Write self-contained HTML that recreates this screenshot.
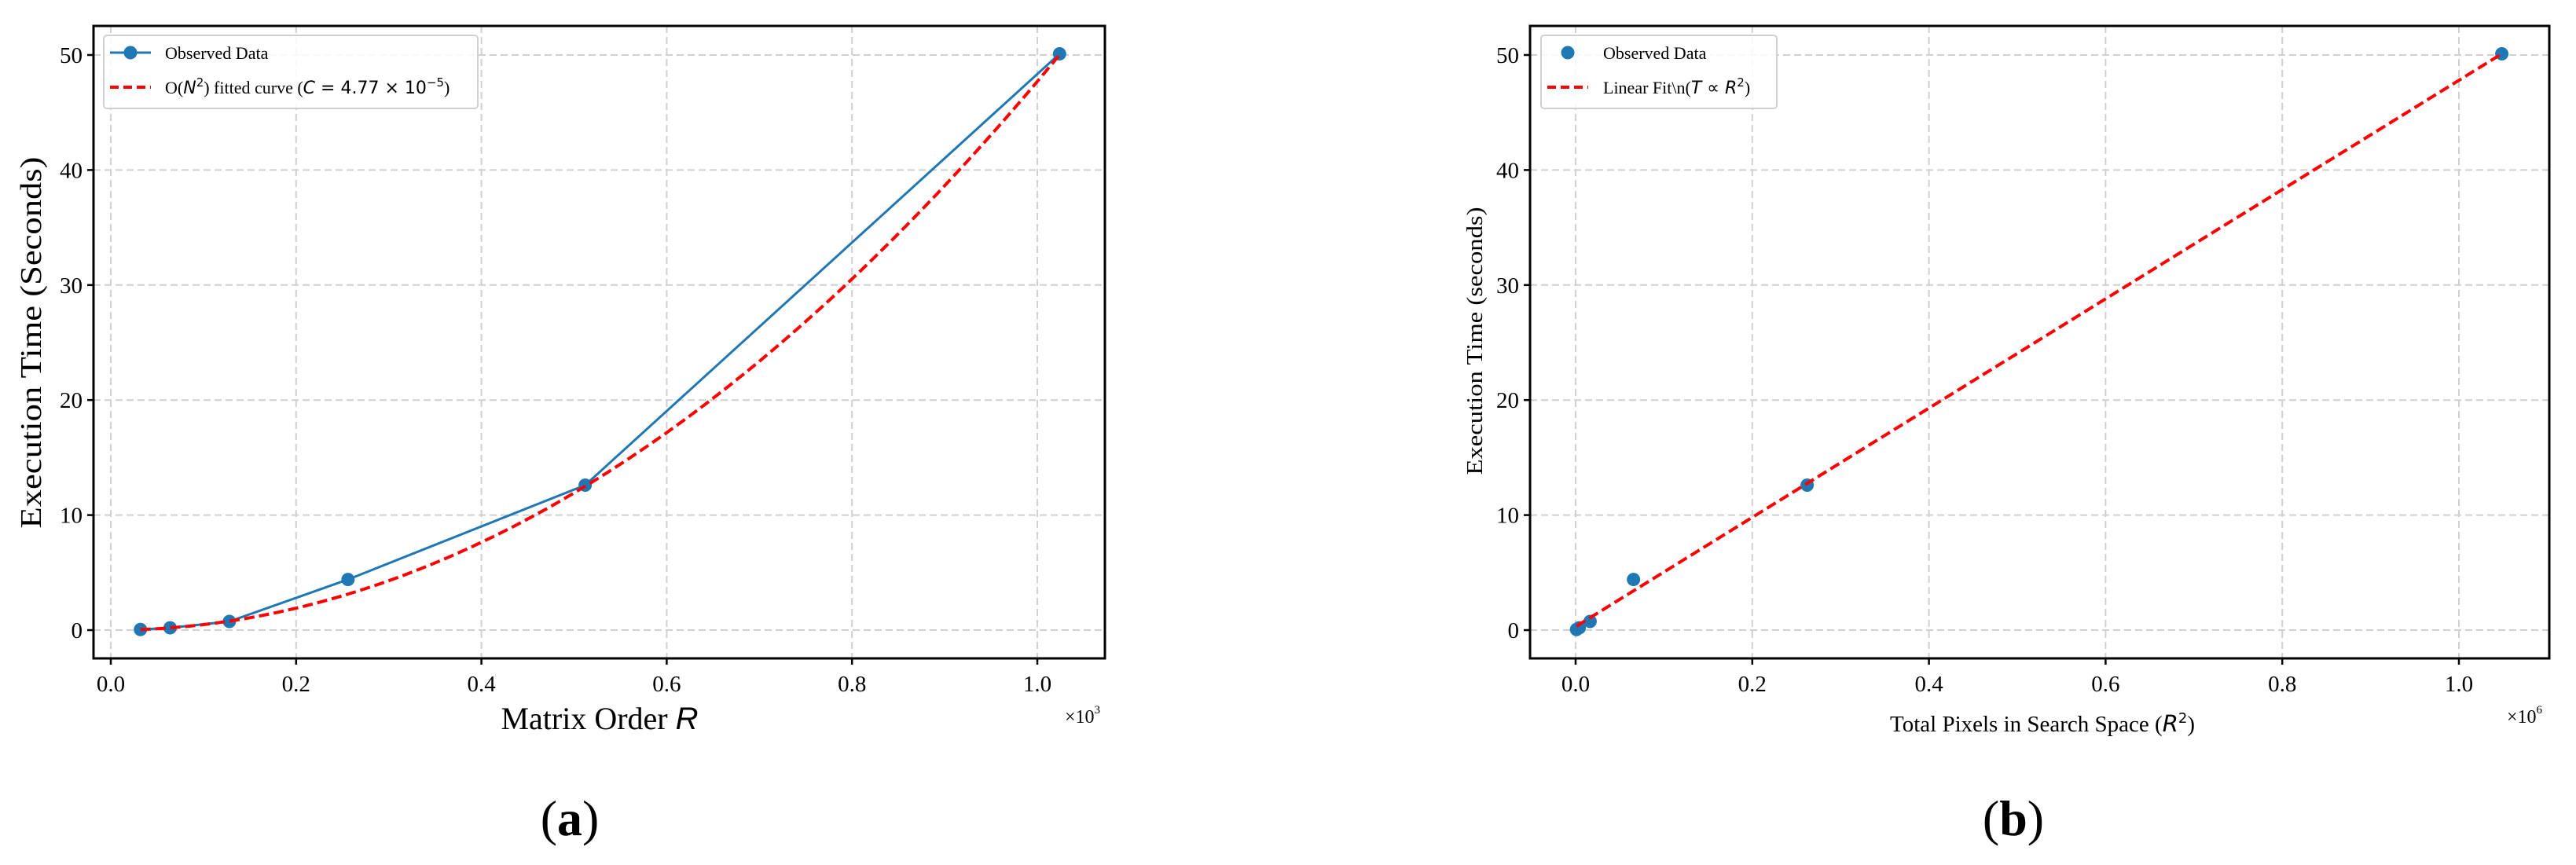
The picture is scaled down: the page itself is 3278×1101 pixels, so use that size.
<!DOCTYPE html>
<html><head><meta charset="utf-8"><style>
html,body{margin:0;padding:0;background:#fff;}
svg{display:block;font-family:"Liberation Serif",serif;}
</style></head><body>
<svg id="fig" width="3278" height="1101" viewBox="0 0 3278 1101">
<g id="pa"></g>
<g id="pb"></g>
</svg>
<script>
const rA = [32, 64, 128, 256, 512, 1024];
const tA = [0.05, 0.2, 0.75, 4.4, 12.6, 50.1];
const fitC = 4.77e-5;
const pixB = [1024, 4096, 16384, 65536, 262144, 1048576];
const tB = [0.05, 0.2, 0.75, 4.4, 12.6, 50.1];
const fitSlope = 47.5e-6, fitIntercept = 0.3;
const xTicks = [0.0, 0.2, 0.4, 0.6, 0.8, 1.0];
const xTickLabels = ["0.0","0.2","0.4","0.6","0.8","1.0"];
const yTicks = [0, 10, 20, 30, 40, 50];
const yTickLabels = ["0","10","20","30","40","50"];

const NS = "http://www.w3.org/2000/svg";
function mk(parent, tag, attrs, text){
  const e = document.createElementNS(NS, tag);
  for (const k in attrs) e.setAttribute(k, attrs[k]);
  if (text !== undefined) e.textContent = text;
  parent.appendChild(e); return e;
}
function yS(v){ return 802 + (70 - 802) * v / 50; }

function axes(g, L, R, x0, x1, sx){
  // sx maps tick value (0..1) to px
  for (let i = 0; i < yTicks.length; i++){
    const y = yS(yTicks[i]);
    const gl = mk(g, "line", {x1:L, x2:R, y1:y, y2:y, stroke:"#d0d0d0", "stroke-width":2, "stroke-dasharray":"9,5"});
    
    
    const tk = mk(g, "line", {x1:L-8, x2:L, y1:y, y2:y, stroke:"#000", "stroke-width":2.5});
    
    
    const tl = mk(g, "text", {x:L-14, y:y+10, "font-size":29, "text-anchor":"end"}, yTickLabels[i]);
    
    
  }
  for (let i = 0; i < xTicks.length; i++){
    const x = sx(xTicks[i]);
    const gl = mk(g, "line", {x1:x, x2:x, y1:33, y2:838, stroke:"#d0d0d0", "stroke-width":2, "stroke-dasharray":"9,5"});
    
    
    const tk = mk(g, "line", {x1:x, x2:x, y1:838, y2:846, stroke:"#000", "stroke-width":2.5});
    
    
    const tl = mk(g, "text", {x:x, y:880, "font-size":29, "text-anchor":"middle"}, xTickLabels[i]);
    
    
  }
}
function frame(g, L, R){
  const f = mk(g, "rect", {x:L, y:33, width:R-L, height:805, fill:"none", stroke:"#000", "stroke-width":3});
  
  
}

// ---------- chart a ----------
const ga = document.getElementById("pa");
const Ax = v => 141 + (1320 - 141) * v;          // v in thousands
const axR = r => Ax(r / 1000);
axes(ga, 119, 1406, 0, 1, Ax);
// fitted curve
let d = "";
for (let i = 0; i <= 120; i++){
  const r = rA[0] + (rA[rA.length-1] - rA[0]) * i / 120;
  d += (i ? "L" : "M") + axR(r).toFixed(1) + "," + yS(fitC * r * r).toFixed(1);
}
// observed line
let dl = "";
rA.forEach((r, i) => { dl += (i ? "L" : "M") + axR(r) + "," + yS(tA[i]); });
const la = mk(ga, "path", {d:dl, fill:"none", stroke:"#1f77b4", "stroke-width":3});


rA.forEach((r, i) => {
  const c = mk(ga, "circle", {cx:axR(r), cy:yS(tA[i]), r:8.5, fill:"#1f77b4"});
  
  
});
const fa = mk(ga, "path", {d:d, fill:"none", stroke:"#ff0000", "stroke-width":4, "stroke-dasharray":"13,6"});


frame(ga, 119, 1406);
// legend a
const lga = mk(ga, "g", {});


mk(lga, "rect", {x:132, y:45, width:476, height:93, rx:4, fill:"#fff", "fill-opacity":0.85, stroke:"#d0d0d0", "stroke-width":2});
mk(lga, "line", {x1:140, x2:192, y1:67, y2:67, stroke:"#1f77b4", "stroke-width":3});
mk(lga, "circle", {cx:166, cy:67, r:8.5, fill:"#1f77b4"});
const le1 = mk(lga, "text", {x:210, y:75, "font-size":22}, "Observed Data");


mk(lga, "line", {x1:140, x2:192, y1:111, y2:111, stroke:"#ff0000", "stroke-width":4, "stroke-dasharray":"11,6"});
const le2 = mk(lga, "text", {x:210, y:119, "font-size":22});


le2.innerHTML = 'O(<tspan font-family="DejaVu Sans" font-style="italic">N</tspan><tspan font-family="DejaVu Sans" font-size="15" dy="-9">2</tspan><tspan dy="9">) fitted curve (</tspan><tspan font-family="DejaVu Sans" font-style="italic">C</tspan><tspan font-family="DejaVu Sans"> = 4.77 × 10</tspan><tspan font-family="DejaVu Sans" font-size="15" dy="-9">−5</tspan><tspan dy="9">)</tspan>';
const yla = mk(ga, "text", {transform:"translate(52,436) rotate(-90)", "font-size":38, "text-anchor":"middle", textLength:473, lengthAdjust:"spacingAndGlyphs"}, "Execution Time (Seconds)");


const xla = mk(ga, "text", {x:763, y:928, "font-size":40, "text-anchor":"middle"});


xla.innerHTML = 'Matrix Order <tspan font-family="Liberation Sans" font-style="italic">R</tspan>';
const ofa = mk(ga, "text", {x:1355, y:920, "font-size":24});


ofa.innerHTML = '×10<tspan font-size="15" dy="-12">3</tspan>';
const capa = mk(ga, "text", {x:725, y:1063, "font-size":64, "text-anchor":"middle"});


capa.innerHTML = '(<tspan font-weight="bold">a</tspan>)';

// ---------- chart b ----------
const gb = document.getElementById("pb");
const Bx = v => 2005 + (3129 - 2005) * v;        // v in millions
const bxP = p => Bx(p / 1e6);
axes(gb, 1947, 3244, 0, 1, Bx);
pixB.forEach((p, i) => {
  const c = mk(gb, "circle", {cx:bxP(p), cy:yS(tB[i]), r:8.5, fill:"#1f77b4"});
  
  
});
const p0 = pixB[0], p1 = pixB[pixB.length-1];
const fb = mk(gb, "line", {x1:bxP(p0), y1:yS(fitIntercept + fitSlope*p0), x2:bxP(p1), y2:yS(fitIntercept + fitSlope*p1), stroke:"#ff0000", "stroke-width":4, "stroke-dasharray":"13,6"});


frame(gb, 1947, 3244);
const lgb = mk(gb, "g", {});


mk(lgb, "rect", {x:1961, y:45, width:300, height:93, rx:4, fill:"#fff", "fill-opacity":0.85, stroke:"#d0d0d0", "stroke-width":2});
mk(lgb, "circle", {cx:1995, cy:67, r:8.5, fill:"#1f77b4"});
const lb1 = mk(lgb, "text", {x:2040, y:75, "font-size":22}, "Observed Data");


mk(lgb, "line", {x1:1969, x2:2021, y1:111, y2:111, stroke:"#ff0000", "stroke-width":4, "stroke-dasharray":"11,6"});
const lb2 = mk(lgb, "text", {x:2040, y:119, "font-size":22});


lb2.innerHTML = 'Linear Fit\\n(<tspan font-family="DejaVu Sans" font-style="italic">T</tspan><tspan font-family="DejaVu Sans"> ∝ </tspan><tspan font-family="DejaVu Sans" font-style="italic">R</tspan><tspan font-family="DejaVu Sans" font-size="15" dy="-9">2</tspan><tspan dy="9">)</tspan>';
const ylb = mk(gb, "text", {transform:"translate(1886,434) rotate(-90)", "font-size":29, "text-anchor":"middle", textLength:341, lengthAdjust:"spacingAndGlyphs"}, "Execution Time (seconds)");


const xlb = mk(gb, "text", {x:2599, y:931, "font-size":29, "text-anchor":"middle"});


xlb.innerHTML = 'Total Pixels in Search Space (<tspan font-family="DejaVu Sans" font-style="italic">R</tspan><tspan font-family="DejaVu Sans" font-size="18" dy="-11">2</tspan><tspan dy="11">)</tspan>';
const ofb = mk(gb, "text", {x:3190, y:920, "font-size":24});


ofb.innerHTML = '×10<tspan font-size="15" dy="-12">6</tspan>';
const capb = mk(gb, "text", {x:2562, y:1063, "font-size":64, "text-anchor":"middle"});


capb.innerHTML = '(<tspan font-weight="bold">b</tspan>)';
</script>
</body></html>
